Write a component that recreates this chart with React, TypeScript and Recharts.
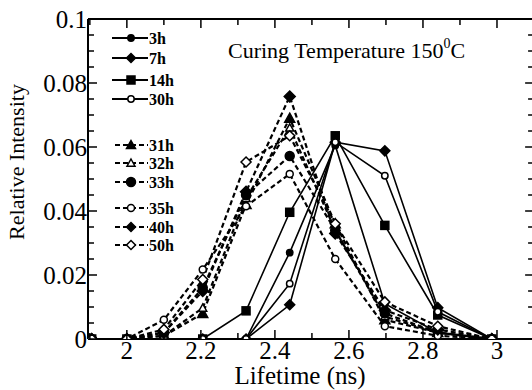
import React from 'react';
import { LineChart, Line, XAxis, YAxis, ReferenceLine, Customized } from 'recharts';

// ---- data ----
const lifetimes = [1.905, 2.0, 2.1, 2.205, 2.322, 2.44, 2.563, 2.697, 2.84, 2.986];

const h3 = [0, 0, 0, 0, 0, 0.027, 0.0605, 0.011, 0.002, 0];
const h7 = [0, 0, 0, 0, 0, 0.0107, 0.0615, 0.0588, 0.0098, 0];
const h14 = [0, 0, 0, 0, 0.0088, 0.0396, 0.0635, 0.0355, 0.0075, 0];
const h30 = [0, 0, 0, 0, 0, 0.0173, 0.0615, 0.051, 0.0085, 0];

const h31 = [0, 0, 0.001, 0.008, 0.042, 0.069, 0.036, 0.006, 0.002, 0];
const h32 = [0, 0, 0.001, 0.0097, 0.044, 0.066, 0.034, 0.007, 0.002, 0];
const h33 = [0, 0, 0.002, 0.016, 0.045, 0.0572, 0.034, 0.008, 0.002, 0];
const h35 = [0, 0, 0.006, 0.0217, 0.0415, 0.0516, 0.025, 0.004, 0.001, 0];
const h40 = [0, 0, 0.002, 0.015, 0.046, 0.0758, 0.033, 0.009, 0.003, 0];
const h50 = [0, 0, 0.003, 0.0186, 0.0553, 0.0635, 0.036, 0.0116, 0.004, 0];

const X_MIN = 1.895;
const X_MAX = 3.1;
const Y_MIN = 0;
const Y_MAX = 0.1;

const xMajorTicks = [2, 2.2, 2.4, 2.6, 2.8, 3];
const xMinorTicks = [1.9, 2.1, 2.3, 2.5, 2.7, 2.9];
const yMajorTicks = [0, 0.02, 0.04, 0.06, 0.08, 0.1];
const yMinorTicks = [0.005, 0.01, 0.015, 0.025, 0.03, 0.035, 0.045, 0.05, 0.055, 0.065, 0.07, 0.075, 0.085, 0.09, 0.095];

const titleMain = 'Curing Temperature 150';
const titleSup = '0';
const titleEnd = 'C';
const xLabel = 'Lifetime (ns)';
const yLabel = 'Relative Intensity';

type Shape = 'circle' | 'diamond' | 'square' | 'triangle';
interface SeriesDef { key: string; name: string; values: number[]; shape: Shape; filled: boolean; dashed: boolean; size: number; }

const series: SeriesDef[] = [
  { key: 'h3', name: '3h', values: h3, shape: 'circle', filled: true, dashed: false, size: 3.2 },
  { key: 'h7', name: '7h', values: h7, shape: 'diamond', filled: true, dashed: false, size: 5 },
  { key: 'h14', name: '14h', values: h14, shape: 'square', filled: true, dashed: false, size: 4 },
  { key: 'h30', name: '30h', values: h30, shape: 'circle', filled: false, dashed: false, size: 3.2 },
  { key: 'h31', name: '31h', values: h31, shape: 'triangle', filled: true, dashed: true, size: 5 },
  { key: 'h32', name: '32h', values: h32, shape: 'triangle', filled: false, dashed: true, size: 4 },
  { key: 'h33', name: '33h', values: h33, shape: 'circle', filled: true, dashed: true, size: 4.5 },
  { key: 'h35', name: '35h', values: h35, shape: 'circle', filled: false, dashed: true, size: 3.5 },
  { key: 'h40', name: '40h', values: h40, shape: 'diamond', filled: true, dashed: true, size: 5.5 },
  { key: 'h50', name: '50h', values: h50, shape: 'diamond', filled: false, dashed: true, size: 5 },
];

const data = lifetimes.map((x, i) => {
  const row: Record<string, number> = { x };
  series.forEach((s) => { row[s.key] = s.values[i]; });
  return row;
});

const FONT = "'Liberation Serif', 'Times New Roman', serif";

function Marker({ cx, cy, shape, filled, size }: { cx: number; cy: number; shape: Shape; filled: boolean; size: number }) {
  const fill = filled ? '#000' : '#fff';
  const sw = 1.5;
  if (shape === 'circle') return <circle cx={cx} cy={cy} r={size} fill={fill} stroke="#000" strokeWidth={sw} />;
  if (shape === 'square') return <rect x={cx - size} y={cy - size} width={size * 2} height={size * 2} fill={fill} stroke="#000" strokeWidth={sw} />;
  if (shape === 'diamond')
    return <polygon points={`${cx},${cy - size} ${cx + size},${cy} ${cx},${cy + size} ${cx - size},${cy}`} fill={fill} stroke="#000" strokeWidth={sw} />;
  return <polygon points={`${cx},${cy - size} ${cx + size},${cy + size * 0.8} ${cx - size},${cy + size * 0.8}`} fill={fill} stroke="#000" strokeWidth={sw} />;
}

const legendRows = [38, 58, 80, 99, 145, 163, 182, 208, 227, 245];

function LegendAndTitle() {
  return (
    <g style={{ fontFamily: FONT }}>
      {series.map((s, i) => {
        const y = legendRows[i];
        const x1 = s.dashed ? 115 : 112;
        const x2 = 148;
        return (
          <g key={s.key}>
            <line x1={x1} y1={y} x2={x2} y2={y} stroke="#000" strokeWidth={s.dashed ? 2.2 : 1.8} strokeDasharray={s.dashed ? '5 3' : undefined} />
            <Marker cx={131} cy={y} shape={s.shape} filled={s.filled} size={Math.min(s.size, 4.5)} />
            <text x={149} y={y + 6} fontSize={16} fontWeight="bold" fill="#000" style={{ fontFamily: FONT }}>{s.name}</text>
          </g>
        );
      })}
      <text x={228} y={58} fontSize={22} fill="#000" style={{ fontFamily: FONT }}>
        {titleMain}
        <tspan fontSize={14} dy={-10}>{titleSup}</tspan>
        <tspan dy={10}>{titleEnd}</tspan>
      </text>
      <text x={300} y={384} fontSize={25} textAnchor="middle" fill="#000" style={{ fontFamily: FONT }}>{xLabel}</text>
      <text x={0} y={0} fontSize={22} textAnchor="middle" fill="#000" style={{ fontFamily: FONT }}
        transform={`translate(24,162) rotate(-90)`}>{yLabel}</text>
    </g>
  );
}

const makeDot = (s: SeriesDef) => (p: any) => (
  <Marker key={`${s.key}-${p.index}`} cx={p.cx} cy={p.cy} shape={s.shape} filled={s.filled} size={s.size} />
);

const isIn = (v: number, arr: number[]) => arr.some((a) => Math.abs(a - v) < 1e-9);

const XTick = (props: any) => {
  const { x, y, payload } = props;
  const v = payload.value as number;
  const major = isIn(v, xMajorTicks);
  return (
    <g>
      <line x1={x} y1={y} x2={x} y2={y - (major ? 9 : 6)} stroke="#000" strokeWidth={1.5} />
      {major && (
        <text x={x} y={y + 20} textAnchor="middle" fontSize={25} fill="#000" style={{ fontFamily: FONT }}>{String(v)}</text>
      )}
    </g>
  );
};

const YTick = (props: any) => {
  const { x, y, payload } = props;
  const v = payload.value as number;
  const major = isIn(v, yMajorTicks);
  return (
    <g>
      <line x1={x} y1={y} x2={x + (major ? 9 : 6)} y2={y} stroke="#000" strokeWidth={1.5} />
      {major && (
        <text x={x - 1} y={y + 8.5} textAnchor="end" fontSize={25} fill="#000" style={{ fontFamily: FONT }}>{String(v)}</text>
      )}
    </g>
  );
};

// tick lengths for the top/right sides expressed in data units
const TOP_MAJOR = 0.0028;
const TOP_MINOR = 0.0019;
const RIGHT_MAJOR = 0.024;
const RIGHT_MINOR = 0.016;

const axisLineStyle = { stroke: '#000', strokeWidth: 2 };

export default function App() {
  const allX = [...xMinorTicks, ...xMajorTicks].sort((a, b) => a - b);
  const allY = [...yMinorTicks, ...yMajorTicks].sort((a, b) => a - b);
  return (
    <div style={{ position: 'absolute', left: 0, top: 0, width: 532, height: 390, overflow: 'hidden', background: '#fff' }}>
      <LineChart width={540} height={390} data={data} margin={{ top: 19, right: 6, bottom: 0, left: 0 }} style={{ fontFamily: FONT }}>
        <XAxis xAxisId="x" dataKey="x" type="number" domain={[X_MIN, X_MAX]} allowDataOverflow ticks={allX} interval={0}
          height={51} tickSize={0} tickMargin={0} tick={<XTick />} axisLine={axisLineStyle} tickLine={false} />
        <YAxis yAxisId="y" type="number" domain={[Y_MIN, Y_MAX]} allowDataOverflow ticks={allY} interval={0}
          width={88} tickSize={0} tickMargin={0} tick={<YTick />} axisLine={axisLineStyle} tickLine={false} />

        {/* top and right frame */}
        <ReferenceLine xAxisId="x" yAxisId="y" y={Y_MAX} stroke="#000" strokeWidth={2} ifOverflow="visible" />
        <ReferenceLine xAxisId="x" yAxisId="y" x={X_MAX} stroke="#000" strokeWidth={2} ifOverflow="visible" />
        {allX.map((t) => (
          <ReferenceLine key={`tx${t}`} xAxisId="x" yAxisId="y" ifOverflow="visible" stroke="#000" strokeWidth={1.5}
            segment={[{ x: t, y: Y_MAX }, { x: t, y: Y_MAX - (isIn(t, xMajorTicks) ? TOP_MAJOR : TOP_MINOR) }]} />
        ))}
        {allY.map((t) => (
          <ReferenceLine key={`ry${t}`} xAxisId="x" yAxisId="y" ifOverflow="visible" stroke="#000" strokeWidth={1.5}
            segment={[{ x: X_MAX, y: t }, { x: X_MAX - (isIn(t, yMajorTicks) ? RIGHT_MAJOR : RIGHT_MINOR), y: t }]} />
        ))}

        {series.map((s) => (
          <Line key={s.key} xAxisId="x" yAxisId="y" dataKey={s.key} name={s.name} type="linear" stroke="#000"
            strokeWidth={s.dashed ? 2.2 : 1.6} strokeDasharray={s.dashed ? '5 3' : undefined}
            dot={makeDot(s)} activeDot={false} isAnimationActive={false} />
        ))}
        <Customized component={LegendAndTitle} />
      </LineChart>
    </div>
  );
}
